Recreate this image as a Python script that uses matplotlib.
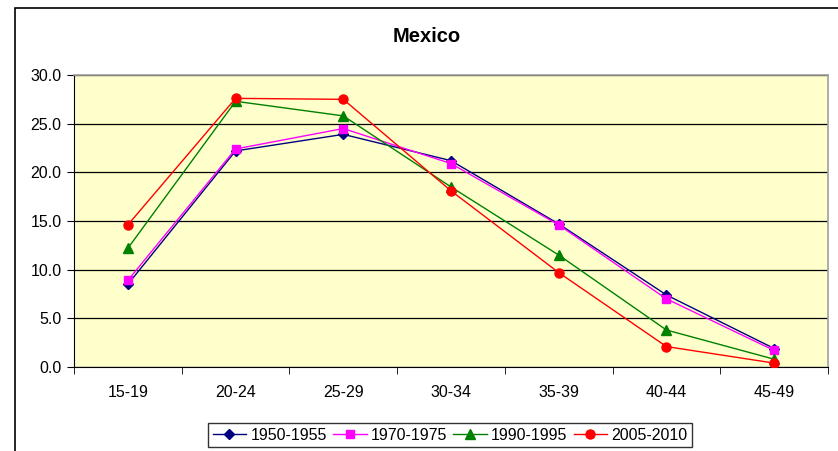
import matplotlib
matplotlib.use("Agg")
import matplotlib.pyplot as plt
import numpy as np
from matplotlib.patches import Rectangle

plt.rcParams['font.family'] = ['Liberation Sans', 'DejaVu Sans']

# age groups and fertility rates per period
ages = ["15-19", "20-24", "25-29", "30-34", "35-39", "40-44", "45-49"]
s1950 = [8.5, 22.2, 23.9, 21.2, 14.7, 7.4, 1.9]
s1970 = [8.9, 22.4, 24.5, 20.9, 14.6, 7.0, 1.7]
s1990 = [12.2, 27.3, 25.8, 18.5, 11.5, 3.8, 0.8]
s2005 = [14.6, 27.6, 27.5, 18.1, 9.7, 2.1, 0.4]
labels = ["1950-1955", "1970-1975", "1990-1995", "2005-2010"]

fig = plt.figure(figsize=(8.38, 4.51), dpi=100)
W, H = 838, 451
# outer chart frame
fig.patches.append(Rectangle((15 / W, -0.1), 1.0, 1 - 8 / H + 0.1, transform=fig.transFigure,
                             fill=False, edgecolor="black", linewidth=1.2))

ax = fig.add_axes([74 / W, 1 - 367 / H, (828 - 74) / W, (367 - 75) / H])
ax.set_facecolor("#FFFFCC")

x = np.arange(len(ages))
ax.plot(x, s1950, color="#000080", marker="D", markersize=5, linewidth=1, label=labels[0], zorder=3)
ax.plot(x, s1970, color="#FF00FF", marker="s", markersize=6, linewidth=1, label=labels[1], zorder=3)
ax.plot(x, s1990, color="#008000", marker="^", markersize=7, linewidth=1, label=labels[2], zorder=3)
ax.plot(x, s2005, color="#FF0000", marker="o", markersize=6.5, linewidth=1, label=labels[3], zorder=3)

ax.set_ylim(0, 30)
ax.set_yticks(np.arange(0, 31, 5))
ax.set_yticklabels(["%.1f" % v for v in np.arange(0, 31, 5)], fontsize=11.5)
ax.yaxis.grid(True, color="black", linewidth=0.9)
ax.set_axisbelow(True)

ax.set_xlim(-0.5, len(ages) - 0.5)
ax.set_xticks(x)
ax.set_xticklabels(ages, fontsize=11.5)
ax.tick_params(axis="x", length=0, pad=13)
ax.set_xticks(np.arange(-0.5, len(ages), 1), minor=True)
ax.tick_params(axis="x", which="minor", length=5, color="black", direction="out")
ax.tick_params(axis="y", length=5, color="black", pad=4)

for s in ["top", "right"]:
    ax.spines[s].set_color("#A0A0A0")
    ax.spines[s].set_linewidth(1.2)
ax.spines["left"].set_color("black")
ax.spines["bottom"].set_color("black")

fig.text(427 / W, 1 - 37 / H, "Mexico", ha="center", va="center", fontsize=14.5, fontweight="bold")

leg = fig.legend(loc="center", bbox_to_anchor=(450 / W, 1 - 435 / H), ncol=4, fontsize=11.5,
                 frameon=True, fancybox=False, edgecolor="black", handlelength=2.1,
                 columnspacing=0.4, handletextpad=0.25, borderpad=0.3)
leg.get_frame().set_linewidth(1)

fig.savefig("out.png", dpi=100)
